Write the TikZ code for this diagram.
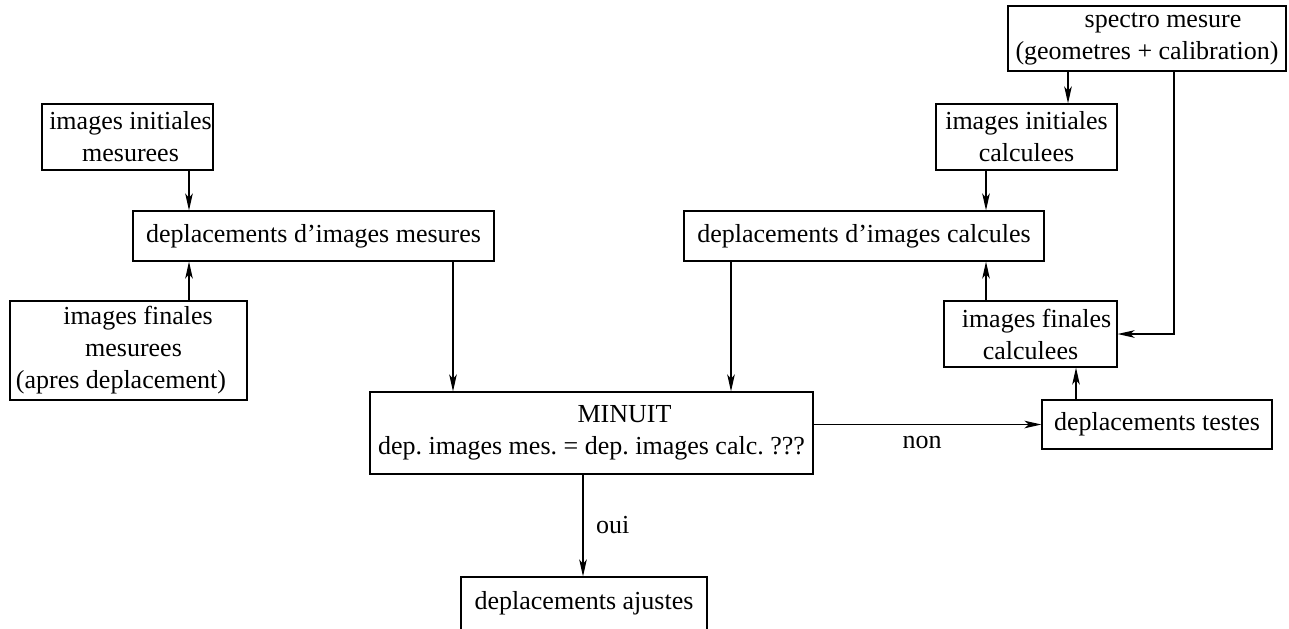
\documentclass[tikz,border=0pt]{standalone}
\usepackage{fontspec}
\setmainfont{Liberation Serif}
\usetikzlibrary{arrows.meta}
\begin{document}
\frenchspacing
\begin{tikzpicture}[x=0.5pt,y=-0.5pt,
  every node/.style={font=\fontsize{13}{16}\selectfont},
  box/.style={draw, line width=0.6pt, inner sep=0pt, align=center},
  arr/.style={line width=0.6pt, -{Stealth[length=8.5pt,width=3.8pt,inset=2.2pt]}},
  ln/.style={line width=0.6pt}]
\useasboundingbox (0,0) rectangle (1289,628);
% left column
\node[box, minimum width=85.5pt, minimum height=33pt] (iim) at (127.5,137) {\hspace*{3pt}images initiales\\\hspace*{3pt}mesurees};
\node[box, minimum width=180.5pt, minimum height=25pt] (dim) at (313.5,236) {deplacements d'images mesures};
\node[box, minimum width=118.5pt, minimum height=49.5pt] (ifm) at (128.5,350.5) {\hspace*{9.5pt}images finales\\\hspace*{5pt}mesurees\\(apres deplacement)\hspace*{7.5pt}};
% right column
\node[box, minimum width=139pt, minimum height=32.5pt] (spec) at (1147,38.5) {\hspace*{16pt}spectro mesure\\(geometres + calibration)};
\node[box, minimum width=90.5pt, minimum height=33pt] (iic) at (1026.5,137) {images initiales\\calculees};
\node[box, minimum width=180pt, minimum height=25pt] (dic) at (864,236) {deplacements d'images calcules};
\node[box, minimum width=86.5pt, minimum height=33pt] (ifc) at (1030.5,334) {\hspace*{6pt}images finales\\calculees};
\node[box, minimum width=115pt, minimum height=24.5pt] (dt) at (1157,424.5) {deplacements testes};
% centre
\node[box, minimum width=221.5pt, minimum height=41pt] (min) at (591.5,433) {\hspace*{33pt}MINUIT\\dep. images mes. = dep. images calc. ???};
\node[box, minimum width=123pt, minimum height=26.5pt] (da) at (584,603.5) {deplacements ajustes};
% helper x positions
\coordinate (xa) at (189,0);
\coordinate (xb) at (453,0);
\coordinate (xc) at (731,0);
\coordinate (xd) at (583,0);
\coordinate (xe) at (1068,0);
\coordinate (xf) at (986,0);
\coordinate (xg) at (1076,0);
\coordinate (xh) at (1174,0);
% connectors
\draw[arr] (iim.south -| xa) -- (dim.north -| xa);
\draw[arr] (ifm.north -| xa) -- (dim.south -| xa);
\draw[arr] (dim.south -| xb) -- (min.north -| xb);
\draw[arr] (dic.south -| xc) -- (min.north -| xc);
\draw[arr] (min.south -| xd) -- (da.north -| xd);
\node[anchor=west] (oui) at (589,525) {oui};
\draw[arr] (min.east |- dt.west) -- (dt.west);
\node (non) at (922,442) {non};
\draw[arr] (spec.south -| xe) -- (iic.north -| xe);
\draw[arr] (iic.south -| xf) -- (dic.north -| xf);
\draw[arr] (ifc.north -| xf) -- (dic.south -| xf);
\draw[arr] (dt.north -| xg) -- (ifc.south -| xg);
\draw[arr] (spec.south -| xh) -- (xh |- ifc.east) -- (ifc.east);
\end{tikzpicture}
\end{document}
